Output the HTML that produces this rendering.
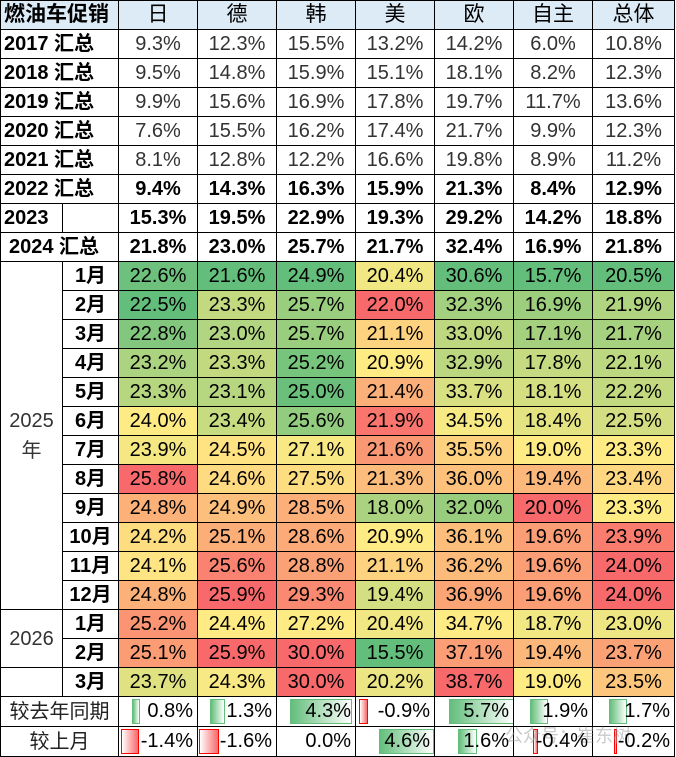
<!DOCTYPE html>
<html><head><meta charset="utf-8">
<style>
body{margin:0;background:#fff;width:676px;height:753px;overflow:hidden;position:relative}
table{border-collapse:collapse;position:absolute;left:0;top:0;table-layout:fixed;font-family:"Liberation Sans","Noto Sans CJK SC",sans-serif;font-size:20px;color:#000}
td{border:1px solid #000;text-align:center;padding:0;height:29px;line-height:20px;white-space:nowrap;overflow:hidden;position:relative;box-sizing:border-box}
tr.h td{background:#DDEBF7;font-size:21px}
td.l{text-align:left;padding-left:3px;font-weight:bold;font-size:20px}
td.g{color:#333}
tr.b td{font-weight:bold}
.bar{position:absolute;top:2px;bottom:2px}
.pos{background:linear-gradient(to right,#63BE7B,#fff);border:1px solid #63BE7B;box-sizing:border-box}
.neg{background:linear-gradient(to left,#F8696B,#fff);border:1px solid #F00;box-sizing:border-box}
.v{position:absolute;right:4px;top:4px;z-index:2}
.m{font-weight:bold;font-size:20px}
.wm{position:absolute;left:505px;top:722px;color:rgba(150,150,150,.5);font-family:"Liberation Sans","Noto Sans CJK SC",sans-serif;font-size:18px}
</style></head><body>
<table id="t">
<colgroup><col style="width:62px"><col style="width:56px"><col style="width:79px"><col style="width:79px"><col style="width:79px"><col style="width:79px"><col style="width:79px"><col style="width:79px"><col style="width:82px"></colgroup>
<tr class="h"><td colspan="2" class="l" style="font-weight:bold">燃油车促销</td><td>日</td><td>德</td><td>韩</td><td>美</td><td>欧</td><td>自主</td><td>总体</td></tr>
<tr><td colspan="2" class="l">2017 汇总</td><td class="g">9.3%</td><td class="g">12.3%</td><td class="g">15.5%</td><td class="g">13.2%</td><td class="g">14.2%</td><td class="g">6.0%</td><td class="g">10.8%</td></tr>
<tr><td colspan="2" class="l">2018 汇总</td><td class="g">9.5%</td><td class="g">14.8%</td><td class="g">15.9%</td><td class="g">15.1%</td><td class="g">18.1%</td><td class="g">8.2%</td><td class="g">12.3%</td></tr>
<tr><td colspan="2" class="l">2019 汇总</td><td class="g">9.9%</td><td class="g">15.6%</td><td class="g">16.9%</td><td class="g">17.8%</td><td class="g">19.7%</td><td class="g">11.7%</td><td class="g">13.6%</td></tr>
<tr><td colspan="2" class="l">2020 汇总</td><td class="g">7.6%</td><td class="g">15.5%</td><td class="g">16.2%</td><td class="g">17.4%</td><td class="g">21.7%</td><td class="g">9.9%</td><td class="g">12.3%</td></tr>
<tr><td colspan="2" class="l">2021 汇总</td><td class="g">8.1%</td><td class="g">12.8%</td><td class="g">12.2%</td><td class="g">16.6%</td><td class="g">19.8%</td><td class="g">8.9%</td><td class="g">11.2%</td></tr>
<tr class="b"><td colspan="2" class="l">2022 汇总</td><td>9.4%</td><td>14.3%</td><td>16.3%</td><td>15.9%</td><td>21.3%</td><td>8.4%</td><td>12.9%</td></tr>
<tr class="b"><td class="l">2023</td><td></td><td>15.3%</td><td>19.5%</td><td>22.9%</td><td>19.3%</td><td>29.2%</td><td>14.2%</td><td>18.8%</td></tr>
<tr class="b"><td colspan="2" class="l" style="padding-left:8px">2024 汇总</td><td>21.8%</td><td>23.0%</td><td>25.7%</td><td>21.7%</td><td>32.4%</td><td>16.9%</td><td>21.8%</td></tr>
<tr class="d"><td rowspan="12" style="line-height:30px;color:#333;font-size:20px;white-space:normal">2025<br>年</td><td class="m">1月</td><td>22.6%</td><td>21.6%</td><td>24.9%</td><td>20.4%</td><td>30.6%</td><td>15.7%</td><td>20.5%</td></tr>
<tr class="d"><td class="m">2月</td><td>22.5%</td><td>23.3%</td><td>25.7%</td><td>22.0%</td><td>32.3%</td><td>16.9%</td><td>21.9%</td></tr>
<tr class="d"><td class="m">3月</td><td>22.8%</td><td>23.0%</td><td>25.7%</td><td>21.1%</td><td>33.0%</td><td>17.1%</td><td>21.7%</td></tr>
<tr class="d"><td class="m">4月</td><td>23.2%</td><td>23.3%</td><td>25.2%</td><td>20.9%</td><td>32.9%</td><td>17.8%</td><td>22.1%</td></tr>
<tr class="d"><td class="m">5月</td><td>23.3%</td><td>23.1%</td><td>25.0%</td><td>21.4%</td><td>33.7%</td><td>18.1%</td><td>22.2%</td></tr>
<tr class="d"><td class="m">6月</td><td>24.0%</td><td>23.4%</td><td>25.6%</td><td>21.9%</td><td>34.5%</td><td>18.4%</td><td>22.5%</td></tr>
<tr class="d"><td class="m">7月</td><td>23.9%</td><td>24.5%</td><td>27.1%</td><td>21.6%</td><td>35.5%</td><td>19.0%</td><td>23.3%</td></tr>
<tr class="d"><td class="m">8月</td><td>25.8%</td><td>24.6%</td><td>27.5%</td><td>21.3%</td><td>36.0%</td><td>19.4%</td><td>23.4%</td></tr>
<tr class="d"><td class="m">9月</td><td>24.8%</td><td>24.9%</td><td>28.5%</td><td>18.0%</td><td>32.0%</td><td>20.0%</td><td>23.3%</td></tr>
<tr class="d"><td class="m">10月</td><td>24.2%</td><td>25.1%</td><td>28.6%</td><td>20.9%</td><td>36.1%</td><td>19.6%</td><td>23.9%</td></tr>
<tr class="d"><td class="m">11月</td><td>24.1%</td><td>25.6%</td><td>28.8%</td><td>21.1%</td><td>36.2%</td><td>19.6%</td><td>24.0%</td></tr>
<tr class="d"><td class="m">12月</td><td>24.8%</td><td>25.9%</td><td>29.3%</td><td>19.4%</td><td>36.9%</td><td>19.6%</td><td>24.0%</td></tr>
<tr class="d"><td rowspan="2" style="color:#333;font-size:20px">2026</td><td class="m" style="height:28px">1月</td><td>25.2%</td><td>24.4%</td><td>27.2%</td><td>20.4%</td><td>34.7%</td><td>18.7%</td><td>23.0%</td></tr>
<tr class="d"><td class="m" style="height:28px">2月</td><td>25.1%</td><td>25.9%</td><td>30.0%</td><td>15.5%</td><td>37.1%</td><td>19.4%</td><td>23.7%</td></tr>
<tr class="d"><td style="border-top:none;height:27px"></td><td class="m" style="height:27px">3月</td><td>23.7%</td><td>24.3%</td><td>30.0%</td><td>20.2%</td><td>38.7%</td><td>19.0%</td><td>23.5%</td></tr>
<tr><td colspan="2" style="font-size:20px;color:#222;height:30px">较去年同期</td>
<td><div class="bar pos" style="left:13px;width:8px"></div><span class="v">0.8%</span></td>
<td><div class="bar pos" style="left:12px;width:15px"></div><span class="v">1.3%</span></td>
<td><div class="bar pos" style="left:13px;width:62px"></div><span class="v">4.3%</span></td>
<td><div class="bar neg" style="left:3px;width:9px"></div><span class="v">-0.9%</span></td>
<td><div class="bar pos" style="left:14px;width:65px"></div><span class="v">5.7%</span></td>
<td><div class="bar pos" style="left:16px;width:18px"></div><span class="v">1.9%</span></td>
<td><div class="bar pos" style="left:16px;width:18px"></div><span class="v">1.7%</span></td></tr>
<tr><td colspan="2" style="font-size:20px;color:#222;height:30px">较上月</td>
<td><div class="bar neg" style="left:2px;width:18px"></div><span class="v">-1.4%</span></td>
<td><div class="bar neg" style="left:1px;width:20px"></div><span class="v">-1.6%</span></td>
<td><span class="v">0.0%</span></td>
<td><div class="bar pos" style="left:23px;width:55px"></div><span class="v">4.6%</span></td>
<td><div class="bar pos" style="left:23px;width:19px"></div><span class="v">1.6%</span></td>
<td><div class="bar neg" style="left:19px;width:5px"></div><span class="v">-0.4%</span></td>
<td><div class="bar neg" style="left:21px;width:3px"></div><span class="v">-0.2%</span></td></tr>
</table>
<div class="wm">公众号：崔东树</div>
<script>
var rows=document.querySelectorAll('tr.d');
function mix(a,b,t){return a.map(function(x,i){return Math.round(x+(b[i]-x)*t)})}
var G=[99,190,123],Y=[255,235,132],R=[248,105,107];
for(var c=0;c<7;c++){
 var cells=[];
 rows.forEach(function(r){var tds=r.querySelectorAll('td');cells.push(tds[tds.length-7+c]);});
 var vals=cells.map(function(td){return parseFloat(td.textContent)});
 var s=vals.slice().sort(function(a,b){return a-b});
 var mn=s[0],mx=s[s.length-1],md=s[Math.floor(s.length/2)];
 cells.forEach(function(td,i){var v=vals[i],col;
  if(v<=md){col=mix(G,Y,md>mn?(v-mn)/(md-mn):1)}else{col=mix(Y,R,(v-md)/(mx-md))}
  td.style.background='rgb('+col.join(',')+')';});
}
</script>
</body></html>
